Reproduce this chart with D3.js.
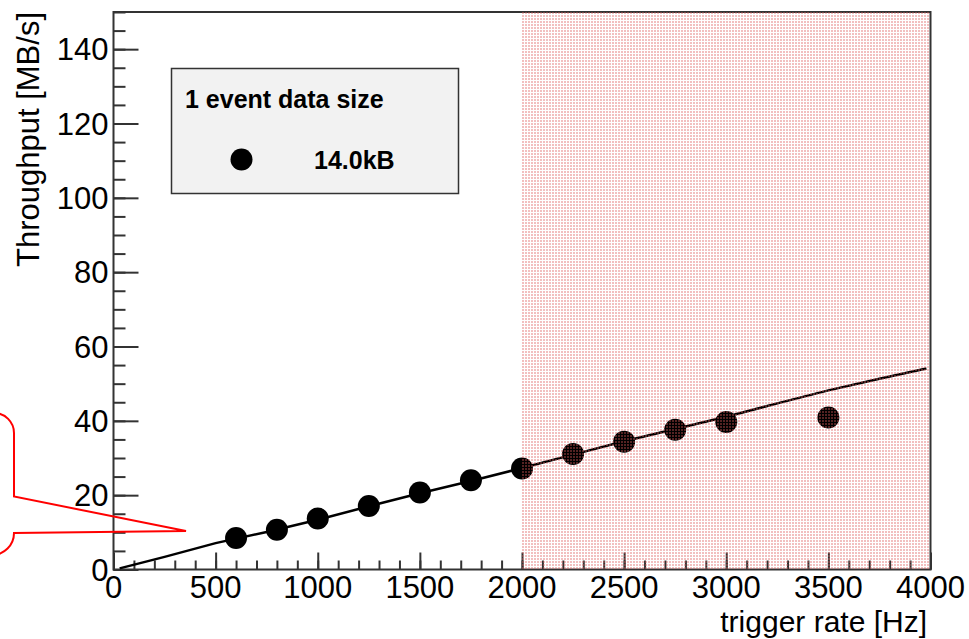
<!DOCTYPE html>
<html>
<head>
<meta charset="utf-8">
<script src="https://cdn.jsdelivr.net/npm/d3@7"></script>
<style>
  body { margin: 0; background: #fff; }
  text { font-family: "Liberation Sans", Arial, Helvetica, sans-serif; }
</style>
</head>
<body>
<div id="chart"></div>
<script>
// measured points
let rates = [600, 800, 1000, 1250, 1500, 1750, 2000, 2250, 2500, 2750, 3000, 3500]
let throughput = [8.5, 10.7, 13.7, 17.1, 20.7, 24.0, 27.2, 31.1, 34.4, 37.6, 39.7, 40.9]

// expected curve
let curveRates = [30, 250, 500, 750, 1000, 1250, 1500, 1750, 2000, 2250, 2500, 2750, 3000, 3250, 3500, 3750, 3980]
let curveValues = [0.3, 3.4, 7.1, 10.1, 13.4, 17.0, 20.5, 23.8, 27.3, 30.9, 34.5, 37.8, 41.1, 44.7, 48.2, 51.3, 54.1]

let xTicks = [0, 500, 1000, 1500, 2000, 2500, 3000, 3500, 4000]
let yTicks = [0, 20, 40, 60, 80, 100, 120, 140]
let shadeRange = [2000, 4000]

let legendTitle = "1 event data size"
let legendLabel = "14.0kB"

let width = 969, height = 639
let margin = {top: 12, right: 38.5, bottom: 69.5, left: 113.5}

let svg = d3.select('#chart').append('svg')
    .attr('width', width)
    .attr('height', height)

let defs = svg.append('defs')
let pat = defs.append('pattern')
    .attr('id', 'dots')
    .attr('patternUnits', 'userSpaceOnUse')
    .attr('width', 3).attr('height', 3)
pat.append('rect')
    .attr('width', 2).attr('height', 2)
    .attr('fill', 'rgba(220,90,90,0.38)')

let x = d3.scaleLinear().domain([0, 4000]).range([margin.left, width - margin.right])
let y = d3.scaleLinear().domain([0, 150]).range([height - margin.bottom, margin.top])

let axisColor = '#333'

// frame
svg.append('rect')
    .attr('x', x(0)).attr('y', y(150))
    .attr('width', x(4000) - x(0)).attr('height', y(0) - y(150))
    .attr('fill', 'none')
    .attr('stroke', axisColor)
    .attr('stroke-width', 2)

// x axis ticks (pointing up into the frame)
let xAxis = d3.axisTop(x).tickValues(xTicks).tickSize(17).tickFormat('')
let xAxisMinor = d3.axisTop(x).tickValues(d3.range(0, 4001, 100)).tickSize(9).tickFormat('')
svg.append('g').attr('transform', 'translate(0,' + y(0) + ')').call(xAxisMinor)
svg.append('g').attr('transform', 'translate(0,' + y(0) + ')').call(xAxis)

// y axis ticks (pointing right into the frame)
let yAxis = d3.axisRight(y).tickValues(yTicks).tickSize(25).tickFormat('')
let yAxisMinor = d3.axisRight(y).tickValues(d3.range(0, 151, 5)).tickSize(12).tickFormat('')
svg.append('g').attr('transform', 'translate(' + x(0) + ',0)').call(yAxisMinor)
svg.append('g').attr('transform', 'translate(' + x(0) + ',0)').call(yAxis)

svg.selectAll('.domain').remove()
svg.selectAll('.tick line').attr('stroke', axisColor).attr('stroke-width', 2)

// tick labels
svg.append('g').selectAll('text')
    .data(xTicks).enter().append('text')
    .attr('x', d => x(d))
    .attr('y', y(0) + 28)
    .attr('text-anchor', 'middle')
    .attr('font-size', 31)
    .text(d => d)

svg.append('g').selectAll('text')
    .data(yTicks).enter().append('text')
    .attr('x', x(0) - 5)
    .attr('y', d => y(d) + 11)
    .attr('text-anchor', 'end')
    .attr('font-size', 31)
    .text(d => d)

// axis titles
svg.append('text')
    .attr('x', 927).attr('y', 632)
    .attr('text-anchor', 'end')
    .attr('font-size', 30)
    .text('trigger rate [Hz]')

svg.append('text')
    .attr('transform', 'translate(39,' + y(150) + ') rotate(-90)')
    .attr('text-anchor', 'end')
    .attr('font-size', 31)
    .text('Throughput [MB/s]')

// curve
let line = d3.line().x(d => x(d[0])).y(d => y(d[1]))
svg.append('path')
    .datum(curveRates.map((r, i) => [r, curveValues[i]]))
    .attr('d', line)
    .attr('fill', 'none')
    .attr('stroke', '#000')
    .attr('stroke-width', 2.5)

// points
svg.append('g').selectAll('circle')
    .data(rates.map((r, i) => [r, throughput[i]]))
    .enter().append('circle')
    .attr('cx', d => x(d[0]))
    .attr('cy', d => y(d[1]))
    .attr('r', 11)
    .attr('fill', '#000')

// shaded region on top
svg.append('rect')
    .attr('x', x(shadeRange[0]))
    .attr('y', y(150) - 1)
    .attr('width', x(shadeRange[1]) - x(shadeRange[0]) - 1)
    .attr('height', y(0) - y(150) + 1)
    .attr('fill', 'url(#dots)')

// legend
let legend = svg.append('g')
legend.append('rect')
    .attr('x', 171.5).attr('y', 68.5)
    .attr('width', 287).attr('height', 125)
    .attr('fill', '#f2f2f2')
    .attr('stroke', '#333')
    .attr('stroke-width', 1.5)
legend.append('text')
    .attr('x', 185).attr('y', 108)
    .attr('font-size', 25)
    .attr('font-weight', 'bold')
    .text(legendTitle)
legend.append('circle')
    .attr('cx', 241.5).attr('cy', 159.5)
    .attr('r', 11)
    .attr('fill', '#000')
legend.append('text')
    .attr('x', 314).attr('y', 169)
    .attr('font-size', 25)
    .attr('font-weight', 'bold')
    .text(legendLabel)

// red callout
svg.append('path')
    .attr('d', 'M-60,413 L-6,413 A20,20 0 0 1 14,433 L14,496.5 L186,531 L14,533 A22,22 0 0 1 -8,555 L-60,555')
    .attr('fill', 'none')
    .attr('stroke', '#ff0000')
    .attr('stroke-width', 2)
</script>
</body>
</html>
